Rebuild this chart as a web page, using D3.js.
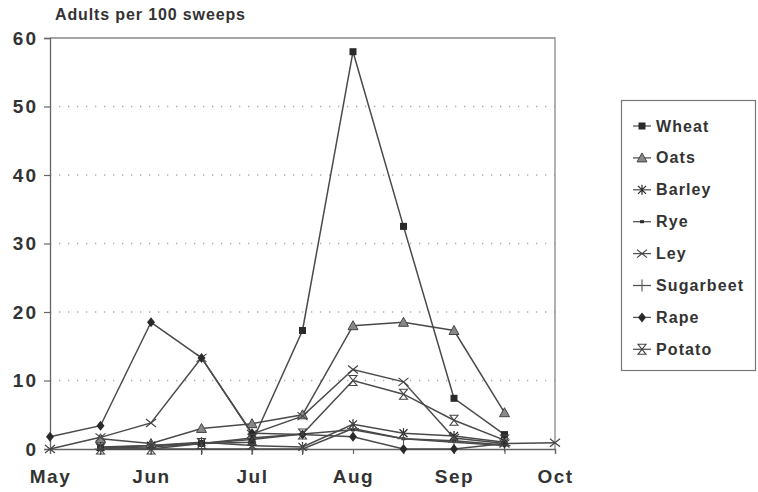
<!DOCTYPE html>
<html lang="en">
  <head>
    <meta charset="utf-8">
    <title>Adults per 100 sweeps</title>
    <script src="https://d3js.org/d3.v7.js"></script>
    <style>
      body { margin: 0; background: white; overflow: hidden; }
      svg { display: block; }
      text { font-family: "Liberation Sans", Arial, sans-serif; font-weight: bold; fill: #333; }
    </style>
  </head>

  <body>
    <script>

      // data: sampling times (months after 1 May) and adults per 100 sweeps
      const times = [0, 0.5, 1, 1.5, 2, 2.5, 3, 3.5, 4, 4.5, 5];
      const monthLabels = ["May", "Jun", "Jul", "Aug", "Sep", "Oct"];
      const yTicks = [0, 10, 20, 30, 40, 50, 60];

      const wheat     = [null, 0.2, 0.5, 0.8, 1.0, 17.3, 58.0, 32.5, 7.4, 2.1, null];
      const oats      = [null, 1.5, 0.8, 3.0, 3.7, 5.0, 18.0, 18.5, 17.3, 5.3, null];
      const barley    = [null, 0.3, 0.5, 1.0, 0.5, 0.3, 3.6, 2.3, 1.9, 1.0, null];
      const rye       = [null, 0.2, 0.3, 0.8, 1.6, 2.2, 2.8, 1.5, 1.2, 0.6, null];
      const ley       = [0, 1.7, 3.8, 13.3, 2.2, 4.8, 11.6, 9.8, 1.6, 0.8, 0.9];
      const sugarbeet = [null, 0, 0, 0, 0, 0, 3.0, 1.5, 1.0, 0.5, null];
      const rape      = [1.8, 3.4, 18.5, 13.3, 2.3, 2.1, 1.8, 0, 0, 0.8, null];
      const potato    = [null, 0, 0, 0.8, 1.4, 2.2, 10.0, 8.0, 4.2, 1.3, null];

      const seriesNames = ["Wheat", "Oats", "Barley", "Rye", "Ley", "Sugarbeet", "Rape", "Potato"];
      const seriesValues = [wheat, oats, barley, rye, ley, sugarbeet, rape, potato];
      const seriesMarks = ["square", "triangle", "asterisk", "dot", "cross", "plus", "diamond", "hourglass"];

      const w = 758;
      const h = 492;
      const margin = {top: 38, right: 203, bottom: 43, left: 50};
      const innerWidth = w - margin.left - margin.right;
      const innerHeight = h - margin.top - margin.bottom;

      const xScale = d3.scaleLinear()
                       .domain([0, 5])
                       .range([0, innerWidth]);

      const yScale = d3.scaleLinear()
                       .domain([0, 60])
                       .range([innerHeight, 0]);

      const svg = d3.select("body")
                    .append("svg")
                    .attr("width", w)
                    .attr("height", h);

      svg.append("rect")
         .attr("width", w)
         .attr("height", h)
         .attr("fill", "white");

      const plot = svg.append("g")
                      .attr("transform", `translate(${margin.left}, ${margin.top})`);

      // dotted grid lines
      plot.append("g")
          .selectAll("line")
          .data(yTicks.filter(d => d > 0 && d < 60))
          .join("line")
          .attr("x1", 0)
          .attr("x2", innerWidth)
          .attr("y1", d => yScale(d))
          .attr("y2", d => yScale(d))
          .attr("stroke", "#aaa")
          .attr("stroke-width", 1.3)
          .attr("stroke-dasharray", "1.3 7.7");

      // frame: top and right
      plot.append("path")
          .attr("d", `M0,0H${innerWidth}V${innerHeight}`)
          .attr("fill", "none")
          .attr("stroke", "#888")
          .attr("stroke-width", 1.3);

      // axes
      const yAxis = d3.axisLeft(yScale)
                      .tickValues(yTicks)
                      .tickSize(6)
                      .tickPadding(8);

      const xAxis = d3.axisBottom(xScale)
                      .tickValues(times)
                      .tickSize(5)
                      .tickPadding(12)
                      .tickFormat(d => Number.isInteger(d) ? monthLabels[d] : "");

      const gy = plot.append("g").call(yAxis);
      const gx = plot.append("g")
                     .attr("transform", `translate(0, ${innerHeight})`)
                     .call(xAxis);

      [gx, gy].forEach(g => {
        g.select(".domain").attr("stroke", "#666").attr("stroke-width", 1.3);
        g.selectAll(".tick line").attr("stroke", "#666").attr("stroke-width", 1.2);
        g.selectAll(".tick text")
         .style("font-size", "19px")
         .attr("fill", "#333");
      });
      gx.selectAll(".tick text")
        .filter(function() { return this.textContent === ""; })
        .remove();
      gx.selectAll(".tick text")
        .attr("dy", "0.9em")
        .style("letter-spacing", "1.5px");
      gy.selectAll(".tick text")
        .style("letter-spacing", "2px")
        .attr("dx", 2);

      // title
      svg.append("text")
         .attr("x", 55)
         .attr("y", 20)
         .attr("textLength", 190)
         .attr("lengthAdjust", "spacing")
         .style("font-size", "16px")
         .text("Adults per 100 sweeps");

      // marker shapes
      function drawMark(g, type) {
        const c = "#2a2a2a";
        if (type === "square") {
          g.append("rect").attr("x", -3.5).attr("y", -3.5).attr("width", 7).attr("height", 7).attr("fill", c);
        } else if (type === "triangle") {
          g.append("path").attr("d", "M0,-5L5,4H-5Z").attr("fill", "#888").attr("stroke", "#444").attr("stroke-width", 1);
        } else if (type === "asterisk") {
          g.append("path").attr("d", "M-4,-4L4,4M-4,4L4,-4M0,-5V5").attr("stroke", c).attr("stroke-width", 1.2);
        } else if (type === "dot") {
          g.append("rect").attr("x", -2).attr("y", -1.5).attr("width", 4).attr("height", 3).attr("fill", c);
        } else if (type === "cross") {
          g.append("path").attr("d", "M-5,-4L5,4M-5,4L5,-4").attr("stroke", "#444").attr("stroke-width", 1.2);
        } else if (type === "plus") {
          g.append("path").attr("d", "M-6,0H6M0,-6V6").attr("stroke", "#555").attr("stroke-width", 1.1);
        } else if (type === "diamond") {
          g.append("path").attr("d", "M0,-5L4,0L0,5L-4,0Z").attr("fill", c);
        } else if (type === "hourglass") {
          g.append("path").attr("d", "M-4,-5H4L-4,5H4Z").attr("fill", "none").attr("stroke", "#444").attr("stroke-width", 1.1);
        }
      }

      const line = d3.line()
                     .defined(d => d[1] !== null)
                     .x(d => xScale(d[0]))
                     .y(d => yScale(d[1]));

      seriesValues.forEach((vals, i) => {
        const pts = times.map((t, j) => [t, vals[j]]);
        plot.append("path")
            .datum(pts)
            .attr("d", line)
            .attr("fill", "none")
            .attr("stroke", "#4a4a4a")
            .attr("stroke-width", 1.5);
      });

      seriesValues.forEach((vals, i) => {
        const pts = times.map((t, j) => [t, vals[j]]).filter(d => d[1] !== null);
        plot.append("g")
            .selectAll("g")
            .data(pts)
            .join("g")
            .attr("transform", d => `translate(${xScale(d[0])}, ${yScale(d[1])})`)
            .each(function() { drawMark(d3.select(this), seriesMarks[i]); });
      });

      // legend
      const legend = svg.append("g")
                        .attr("transform", "translate(621, 100)");

      legend.append("rect")
            .attr("x", 0.5)
            .attr("y", 0.5)
            .attr("width", 134)
            .attr("height", 270)
            .attr("fill", "white")
            .attr("stroke", "#777")
            .attr("stroke-width", 1.2);

      const items = legend.selectAll("g.item")
                          .data(seriesNames)
                          .join("g")
                          .attr("class", "item")
                          .attr("transform", (d, i) => `translate(0, ${26 + i * 31.9})`);

      items.append("line")
           .attr("x1", 12)
           .attr("x2", 30)
           .attr("stroke", "#555")
           .attr("stroke-width", 1.3);

      items.append("g")
           .attr("transform", "translate(21, 0)")
           .each(function(d, i) { drawMark(d3.select(this), seriesMarks[i]); });

      items.append("text")
           .attr("x", 35)
           .attr("y", 5.5)
           .style("font-size", "16px")
           .style("letter-spacing", "1.1px")
           .text(d => d);

    </script>
  </body>
</html>
